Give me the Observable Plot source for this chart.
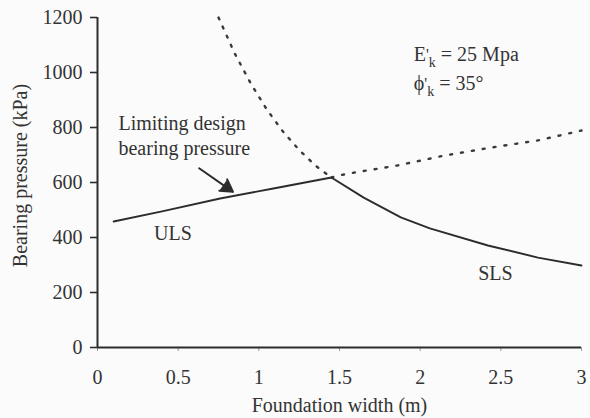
<!DOCTYPE html>
<html>
<head>
<meta charset="utf-8">
<script src="https://cdn.jsdelivr.net/npm/d3@7"></script>
<script src="https://cdn.jsdelivr.net/npm/@observablehq/plot@0.6"></script>
<style>
  html, body { margin: 0; padding: 0; background: #fbfbfb; }
  #chart svg, #chart svg text { font-family: "Liberation Serif", "Times New Roman", Times, "DejaVu Serif", serif !important; }
</style>
</head>
<body>
<div id="chart"></div>
<script>
// ---- data ----
const xTicks = [0, 0.5, 1, 1.5, 2, 2.5, 3];
const xTickLabels = ["0", "0.5", "1", "1.5", "2", "2.5", "3"];
const yTicks = [0, 200, 400, 600, 800, 1000, 1200];
const yTickLabels = ["0", "200", "400", "600", "800", "1000", "1200"];

// ULS (governing part, solid)
const ulsSolidX = [0.10, 0.40, 0.76, 1.09, 1.45];
const ulsSolidY = [458, 495, 542, 578, 618];
// ULS (non-governing part, dotted)
const ulsDotX = [1.45, 1.49, 1.59, 1.86, 2.15, 2.44, 2.73, 3.0];
const ulsDotY = [618, 625, 636, 662, 698, 727, 753, 789];
// SLS (non-governing part, dotted)
const slsDotX = [0.75, 0.85, 0.95, 1.05, 1.15, 1.25, 1.35, 1.45];
const slsDotY = [1200, 1070, 960, 865, 785, 718, 662, 618];
// SLS (governing part, solid)
const slsSolidX = [1.45, 1.65, 1.88, 2.06, 2.42, 2.73, 3.0];
const slsSolidY = [618, 545, 473, 433, 371, 327, 298];

// annotations
const noteText = ["E'k = 25 Mpa", "ϕ'k = 35°", "Limiting design", "bearing pressure", "ULS", "SLS"];
const noteX = [1.96, 1.96, 0.13, 0.13, 0.35, 2.36];
const noteY = [1065, 960, 815, 724, 415, 269];
const arrowFrom = [0.63, 652];
const arrowTo = [0.84, 566];

const toPts = (xs, ys) => xs.map((x, i) => ({x, y: ys[i]}));
const uls1 = toPts(ulsSolidX, ulsSolidY);
const uls2 = toPts(ulsDotX, ulsDotY);
const sls1 = toPts(slsDotX, slsDotY);
const sls2 = toPts(slsSolidX, slsSolidY);
const notes = noteText.map((t, i) => ({t, x: noteX[i], y: noteY[i]}));

const ink = "#2c2c2c";
const font = "'Liberation Serif', 'Times New Roman', Times, 'DejaVu Serif', serif";

const plot = Plot.plot({
  width: 590,
  height: 418,
  marginLeft: 97,
  marginRight: 9,
  marginTop: 17,
  marginBottom: 71,
  style: {fontFamily: font, fontSize: "20px", color: "#333", background: "#fbfbfb"},
  x: {domain: [0, 3]},
  y: {domain: [0, 1200]},
  marks: [
    Plot.axisY({ticks: yTicks, tickSize: 7, tickPadding: 8, label: null, stroke: ink, strokeWidth: 1.6,
      fontSize: 20, tickFormat: (d) => yTickLabels[yTicks.indexOf(d)]}),
    Plot.axisX({ticks: xTicks, tickSize: 4, tickPadding: 18, label: null, stroke: "#9a9a9a",
      tickFormat: (d) => xTickLabels[xTicks.indexOf(d)], fontSize: 20}),
    Plot.ruleX([0], {y1: 0, y2: 1200, stroke: ink, strokeWidth: 2}),
    Plot.ruleY([0], {stroke: ink, strokeWidth: 2}),
    Plot.line(uls2, {x: "x", y: "y", stroke: "#3a3a3a", strokeWidth: 2.4, strokeDasharray: "2 9", strokeLinecap: "round"}),
    Plot.line(sls1, {x: "x", y: "y", stroke: "#3a3a3a", strokeWidth: 2.4, strokeDasharray: "2 8", strokeLinecap: "round"}),
    Plot.line(uls1, {x: "x", y: "y", stroke: ink, strokeWidth: 1.9}),
    Plot.line(sls2, {x: "x", y: "y", stroke: ink, strokeWidth: 1.9}),
    Plot.arrow([{a: arrowFrom, b: arrowTo}], {
      x1: d => d.a[0], y1: d => d.a[1], x2: d => d.b[0], y2: d => d.b[1],
      stroke: ink, fill: ink, strokeWidth: 2, headLength: 18, headAngle: 60
    }),
    Plot.text(notes, {x: "x", y: "y", text: "t", textAnchor: "start", lineAnchor: "middle",
      fontSize: 20, fill: "#333", fontFamily: font}),
    Plot.text(["Foundation width (m)"], {frameAnchor: "bottom", dy: 58, lineAnchor: "middle", textAnchor: "middle",
      fontSize: 20, fill: "#333", fontFamily: font}),
    Plot.text(["Bearing pressure (kPa)"], {frameAnchor: "left", dx: -77, dy: -7, rotate: -90,
      textAnchor: "middle", lineAnchor: "middle", fontSize: 20, fill: "#333", fontFamily: font})
  ]
});

// sub/superscript formatting for the parameter labels
d3.select(plot).selectAll("text").each(function () {
  const t = this.textContent;
  let head = null, tail = null;
  if (t === "E'k = 25 Mpa") { head = "E"; tail = " = 25 Mpa"; }
  if (t === "ϕ'k = 35°") { head = "ϕ"; tail = " = 35°"; }
  if (head) {
    const s = d3.select(this);
    s.text(null);
    s.append("tspan").text(head);
    s.append("tspan").attr("dy", -1).attr("font-size", 16).text("'");
    s.append("tspan").attr("dx", 0).attr("dy", 7).attr("font-size", 14).text("k");
    s.append("tspan").attr("dy", -6).text(tail);
  }
});

document.getElementById("chart").appendChild(plot);
</script>
</body>
</html>
